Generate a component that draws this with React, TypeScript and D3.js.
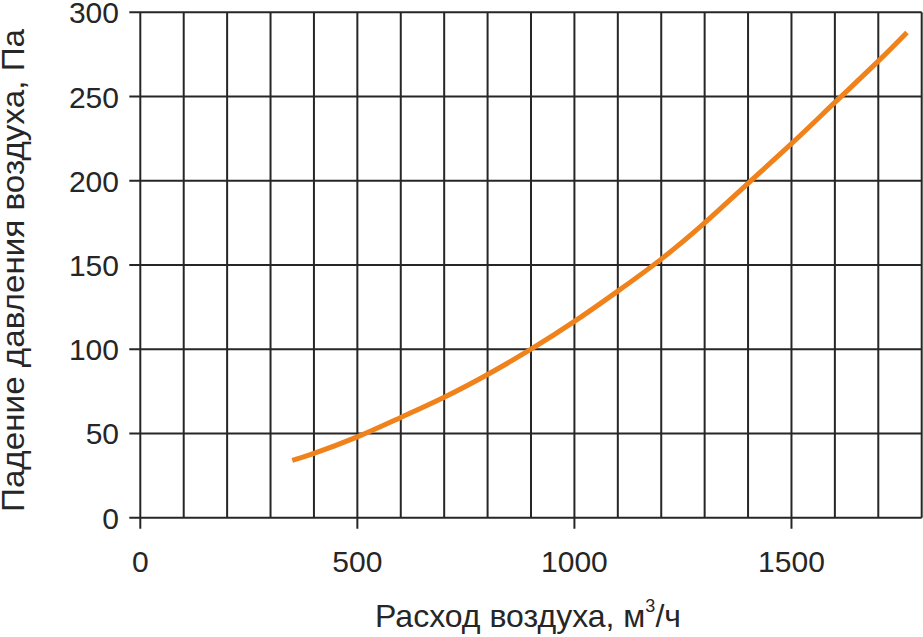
import React from "react";
import * as d3 from "d3";

const flow = [350, 400, 500, 600, 700, 800, 900, 1000, 1100, 1200, 1300, 1400, 1500, 1600, 1700, 1766];
const pressure = [34, 38.2, 48, 59.5, 71.5, 85, 100, 116.5, 134.5, 153.5, 175, 198.5, 222, 246.5, 271, 288];
const xTickLabels = [0, 500, 1000, 1500];
const yTickLabels = [0, 50, 100, 150, 200, 250, 300];
const xGrid = d3.range(0, 1801, 100);

const W = 923;
const H = 637;
const left = 140.3;
const right = 921.7;
const top = 12.3;
const bottom = 517.7;
const font = "'Liberation Sans', Arial, sans-serif";
const ink = "#262626";

export default function App() {
  const x = d3.scaleLinear().domain([0, 1800]).range([left, right]);
  const y = d3.scaleLinear().domain([0, 300]).range([bottom, top]);
  const line = d3
    .line<number>()
    .x((_, i) => x(flow[i]))
    .y((d) => y(d))
    .curve(d3.curveNatural);

  return (
    <svg
      width={W}
      height={H}
      style={{ position: "absolute", left: 0, top: 0, background: "#fff" }}
      fontFamily={font}
    >
      <rect width={W} height={H} fill="#fff" />
      {xGrid.map((v) => (
        <line
          key={"vx" + v}
          x1={x(v)}
          x2={x(v)}
          y1={top}
          y2={xTickLabels.includes(v) ? bottom + 11 : bottom}
          stroke={ink}
          strokeWidth={2}
        />
      ))}
      {yTickLabels.map((v) => (
        <line
          key={"hy" + v}
          x1={left - 11}
          x2={right}
          y1={y(v)}
          y2={y(v)}
          stroke={ink}
          strokeWidth={2}
        />
      ))}
      <path d={line(pressure) || ""} fill="none" stroke="#f0821c" strokeWidth={5} />
      {yTickLabels.map((v) => (
        <text key={"yl" + v} x={119} y={y(v) + 11} textAnchor="end" fontSize={30} fill={ink}>
          {v}
        </text>
      ))}
      {xTickLabels.map((v) => (
        <text key={"xl" + v} x={x(v)} y={572} textAnchor="middle" fontSize={30} fill={ink}>
          {v}
        </text>
      ))}
      <text x={(378 + 678) / 2} y={627} textAnchor="middle" fontSize={32} fill={ink}>
        Расход воздуха, м
        <tspan fontSize={18} dy={-15}>3</tspan>
        <tspan dy={15}>/ч</tspan>
      </text>
      <text
        transform={`translate(24, ${(512 + 29) / 2}) rotate(-90)`}
        textAnchor="middle"
        fontSize={31}
        textLength={483}
        lengthAdjust="spacingAndGlyphs"
        fill={ink}
      >
        Падение давления воздуха, Па
      </text>
    </svg>
  );
}
